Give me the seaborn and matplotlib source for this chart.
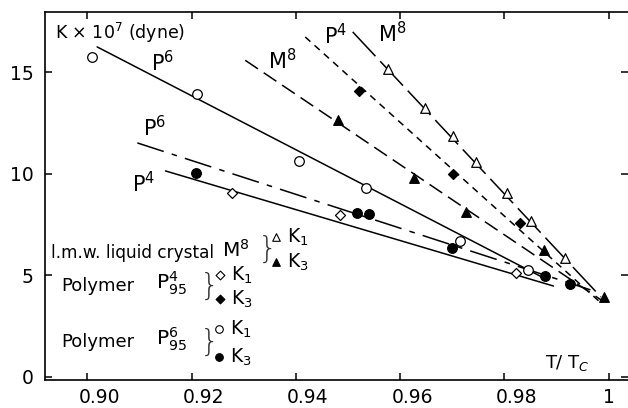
import matplotlib
matplotlib.use("Agg")
import matplotlib.pyplot as plt
from matplotlib.transforms import ScaledTranslation
import seaborn as sns

# ---------------- data ----------------
p6_k1_x = [0.901, 0.921, 0.9407, 0.9534, 0.9714, 0.9846]
p6_k1_y = [15.76, 13.94, 10.64, 9.31, 6.70, 5.27]
p6_k3_x = [0.9209, 0.9518, 0.9541, 0.9699, 0.9877, 0.9925]
p6_k3_y = [10.05, 8.08, 8.03, 6.35, 4.97, 4.58]
p4_k1_x = [0.9278, 0.9484, 0.9822]
p4_k1_y = [9.06, 7.98, 5.12]
p4_k3_x = [0.9522, 0.9702, 0.9829]
p4_k3_y = [14.09, 10.0, 7.59]
m8_k1_x = [0.9576, 0.9647, 0.9701, 0.9745, 0.9804, 0.9850, 0.9917]
m8_k1_y = [15.17, 13.25, 11.87, 10.59, 9.06, 7.68, 5.86]
m8_k3_x = [0.9480, 0.9626, 0.9727, 0.9875, 0.9990]
m8_k3_y = [12.66, 9.80, 8.13, 6.26, 3.94]

# fitted lines (start / end)
fit_p6_k1_x = [0.9019, 0.9879]
fit_p6_k1_y = [16.26, 4.83]
fit_p4_k1_x = [0.9150, 0.9894]
fit_p4_k1_y = [10.15, 4.48]
fit_p6_k3_x = [0.9096, 0.9965]
fit_p6_k3_y = [11.53, 4.29]
fit_m8_k1_x = [0.9509, 0.9985]
fit_m8_k1_y = [17.0, 3.94]
fit_p4_k3_x = [0.9418, 0.9985]
fit_p4_k3_y = [16.75, 3.65]
fit_m8_k3_x = [0.9303, 0.9985]
fit_m8_k3_y = [15.6, 3.8]

x_ticks = [0.90, 0.92, 0.94, 0.96, 0.98, 1.00]
x_tick_labels = ["0.90", "0.92", "0.94", "0.96", "0.98", "1"]
y_ticks = [0, 5, 10, 15]
y_tick_labels = ["0", "5", "10", "15"]

# ---------------- style ----------------
sns.set_style("ticks")
plt.rcParams["font.family"] = ["DejaVu Sans"]
plt.rcParams["lines.scale_dashes"] = False
plt.rcParams["mathtext.fontset"] = "dejavusans"
for k in ["text.color", "axes.labelcolor", "xtick.color", "ytick.color", "axes.edgecolor"]:
    plt.rcParams[k] = "black"

fig = plt.figure(figsize=(6.28, 4.08), dpi=100)
L, R, B, T = 45, 627.5, 380, 12
ax = fig.add_axes([L / 628, 1 - B / 408, (R - L) / 628, (B - T) / 408])

lw = 1.1
line_specs = [
    (fit_p6_k1_x, fit_p6_k1_y, "-"),
    (fit_p4_k1_x, fit_p4_k1_y, "-"),
    (fit_p6_k3_x, fit_p6_k3_y, (0, (20, 6, 4, 6))),
    (fit_m8_k1_x, fit_m8_k1_y, (0, (24, 5))),
    (fit_p4_k3_x, fit_p4_k3_y, (0, (5, 4))),
    (fit_m8_k3_x, fit_m8_k3_y, (0, (11, 5))),
]
for xs, ys, ls in line_specs:
    sns.lineplot(x=xs, y=ys, ax=ax, color="black", lw=lw, linestyle=ls,
                 estimator=None, sort=False, legend=False)

mk_specs = [
    (p6_k1_x, p6_k1_y, "o", "white", 48),
    (p6_k3_x, p6_k3_y, "o", "black", 48),
    (p4_k1_x, p4_k1_y, "D", "white", 26),
    (p4_k3_x, p4_k3_y, "D", "black", 26),
    (m8_k1_x, m8_k1_y, "^", "white", 48),
    (m8_k3_x, m8_k3_y, "^", "black", 48),
]
for xs, ys, m, fc, s in mk_specs:
    sns.scatterplot(x=xs, y=ys, ax=ax, marker=m, s=s, color=fc,
                    edgecolor="black", linewidth=0.9, zorder=5, legend=False)

ax.set_xlim(0.8919, 1.0036)
ax.set_ylim(-0.15, 17.98)
ax.set_xticks(x_ticks)
ax.set_xticklabels(x_tick_labels)
ax.set_yticks(y_ticks)
ax.set_yticklabels(y_tick_labels)
ax.tick_params(direction="in", length=5, width=1.1, labelsize=13.5,
               top=True, right=True, color="black")
ax.tick_params(axis="x", pad=6)
ax.tick_params(axis="y", pad=8, labelsize=13.5)
for sp in ["left", "bottom", "top"]:
    ax.spines[sp].set_linewidth(1.2)
ax.spines["right"].set_visible(False)
# the printed labels sit slightly right of their ticks
for lab in ax.get_xticklabels()[:-1]:
    lab.set_transform(lab.get_transform() + ScaledTranslation(0.12, 0, fig.dpi_scale_trans))

# ---------------- annotations ----------------
fs = 15
ax.text(0.017, 0.943, r"K $\times$ 10$^7$ (dyne)", transform=ax.transAxes,
        fontsize=12.5, va="center", ha="left")
ax.text(0.9144, 15.5, r"P$^6$", fontsize=fs, ha="center", va="center")
ax.text(0.9129, 12.3, r"P$^6$", fontsize=fs, ha="center", va="center")
ax.text(0.9109, 9.55, r"P$^4$", fontsize=fs, ha="center", va="center")
ax.text(0.9374, 15.6, r"M$^8$", fontsize=fs, ha="center", va="center")
ax.text(0.9476, 16.8, r"P$^4$", fontsize=fs, ha="center", va="center")
ax.text(0.9585, 16.9, r"M$^8$", fontsize=fs, ha="center", va="center")
ax.text(0.9921, 0.69, r"T/ T$_C$", fontsize=13, ha="center", va="center")

# ---------------- legend (drawn by hand) ----------------
def fx(px):
    return (px - L) / (R - L)

def fy(py):
    return (B - py) / (B - T)

tr = ax.transAxes
lfs = 12.2
ax.text(fx(51), fy(253), "l.m.w. liquid crystal", transform=tr, fontsize=lfs, va="center")
ax.text(fx(222), fy(250), r"M$^8$", transform=tr, fontsize=14.5, va="center")
ax.text(fx(61), fy(286), "Polymer", transform=tr, fontsize=13, va="center")
ax.text(fx(156), fy(283), r"P$_{95}^{4}$", transform=tr, fontsize=14.5, va="center")
ax.text(fx(61), fy(342), "Polymer", transform=tr, fontsize=13, va="center")
ax.text(fx(156), fy(339), r"P$_{95}^{6}$", transform=tr, fontsize=14.5, va="center")

for bx, by in [(268, 249), (210, 286), (210, 342)]:
    ax.text(fx(bx), fy(by), "}", transform=tr, fontsize=22, va="center",
            ha="center", fontweight="ultralight", color="#333333")

leg_items = [
    (276, 237, "^", "white", r"K$_1$"),
    (276, 262, "^", "black", r"K$_3$"),
    (220, 275, "D", "white", r"K$_1$"),
    (220, 299, "D", "black", r"K$_3$"),
    (219, 329, "o", "white", r"K$_1$"),
    (219, 357, "o", "black", r"K$_3$"),
]
for px, py, m, fc, lab in leg_items:
    ax.scatter([fx(px)], [fy(py)], transform=tr, marker=m, s=30 if m != "D" else 20,
               facecolor=fc, edgecolor="black", linewidth=0.8, zorder=5, clip_on=False)
    ax.text(fx(px + 11), fy(py), lab, transform=tr, fontsize=13.5, va="center")

fig.savefig("out.png", dpi=100)
